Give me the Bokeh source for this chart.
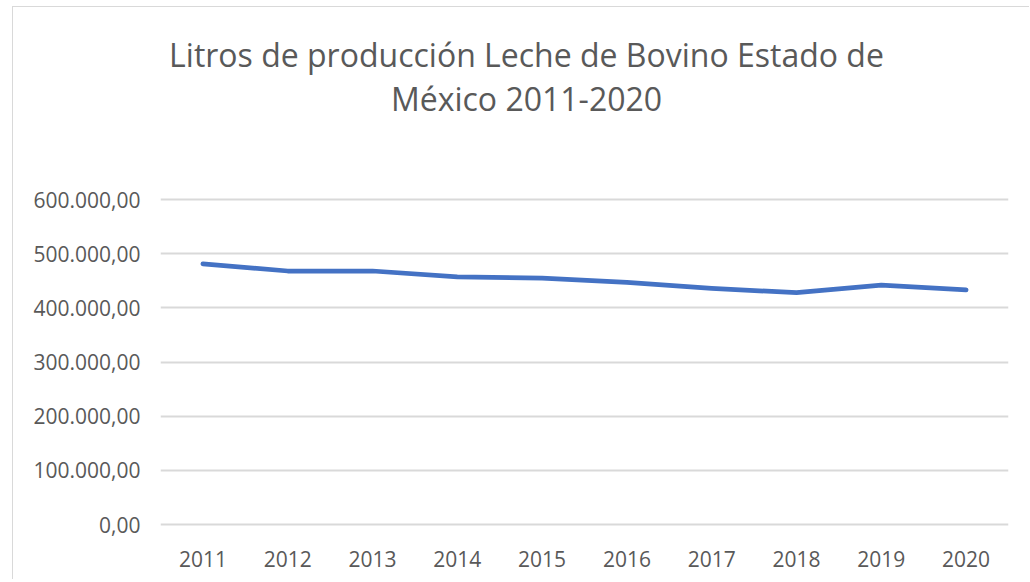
from bokeh.plotting import figure
from bokeh.models import Label, FixedTicker, CustomJSTickFormatter, Range1d
from bokeh.embed import file_html
from bokeh.resources import INLINE

years = ["2011", "2012", "2013", "2014", "2015", "2016", "2017", "2018", "2019", "2020"]
litros = [481000, 468000, 468000, 457000, 455000, 447000, 436000, 428000, 442000, 433000]
y_ticks = [0, 100000, 200000, 300000, 400000, 500000, 600000]
title_lines = ["Litros de producción Leche de Bovino Estado de", "México 2011-2020"]

W, H = 1017, 573
# frame spans the whole height above the x labels so the title can sit inside it
px_per_unit = 325 / 600000
frame_h = 519
y0 = -2 / px_per_unit
y1 = y0 + frame_h / px_per_unit

p = figure(x_range=years, y_range=Range1d(y0, y1), width=W, height=H,
           output_backend="svg", toolbar_location=None,
           min_border_left=147, min_border_right=22, min_border_top=0, min_border_bottom=54)
p.margin = (6, 0, 0, 12)
p.styles = {"border-left": "1px solid #d9d9d9", "border-top": "1px solid #d9d9d9"}
p.outline_line_color = None
p.background_fill_color = "white"
p.border_fill_color = "white"

p.line(x=years, y=litros, line_color="#4472C4", line_width=4.75,
       line_cap="round", line_join="round")

p.xgrid.grid_line_color = None
p.ygrid.grid_line_color = "#d9d9d9"
p.ygrid.grid_line_width = 2

p.yaxis.ticker = FixedTicker(ticks=y_ticks)
p.yaxis.formatter = CustomJSTickFormatter(code="""
const s = Math.round(tick).toString().replace(/\\B(?=(\\d{3})+(?!\\d))/g, '.');
return s + ',00';
""")
for ax in (p.xaxis[0], p.yaxis[0]):
    ax.axis_line_color = None
    ax.major_tick_line_color = None
    ax.minor_tick_line_color = None
    ax.major_tick_out = 0
    ax.major_tick_in = 0
    ax.major_label_text_font = "Open Sans"
    ax.major_label_text_font_size = "21px"
    ax.major_label_text_color = "#595959"
p.yaxis.major_label_standoff = 20
p.xaxis.major_label_standoff = 24

for i, t in enumerate(title_lines):
    p.add_layout(Label(x=366, y=472 - 44 * i, x_units="screen", y_units="screen",
                       text=t, text_align="center", text_baseline="alphabetic",
                       text_font="Open Sans", text_font_size="32px",
                       text_color="#595959"))

open("out.html", "w").write(file_html(p, INLINE))
